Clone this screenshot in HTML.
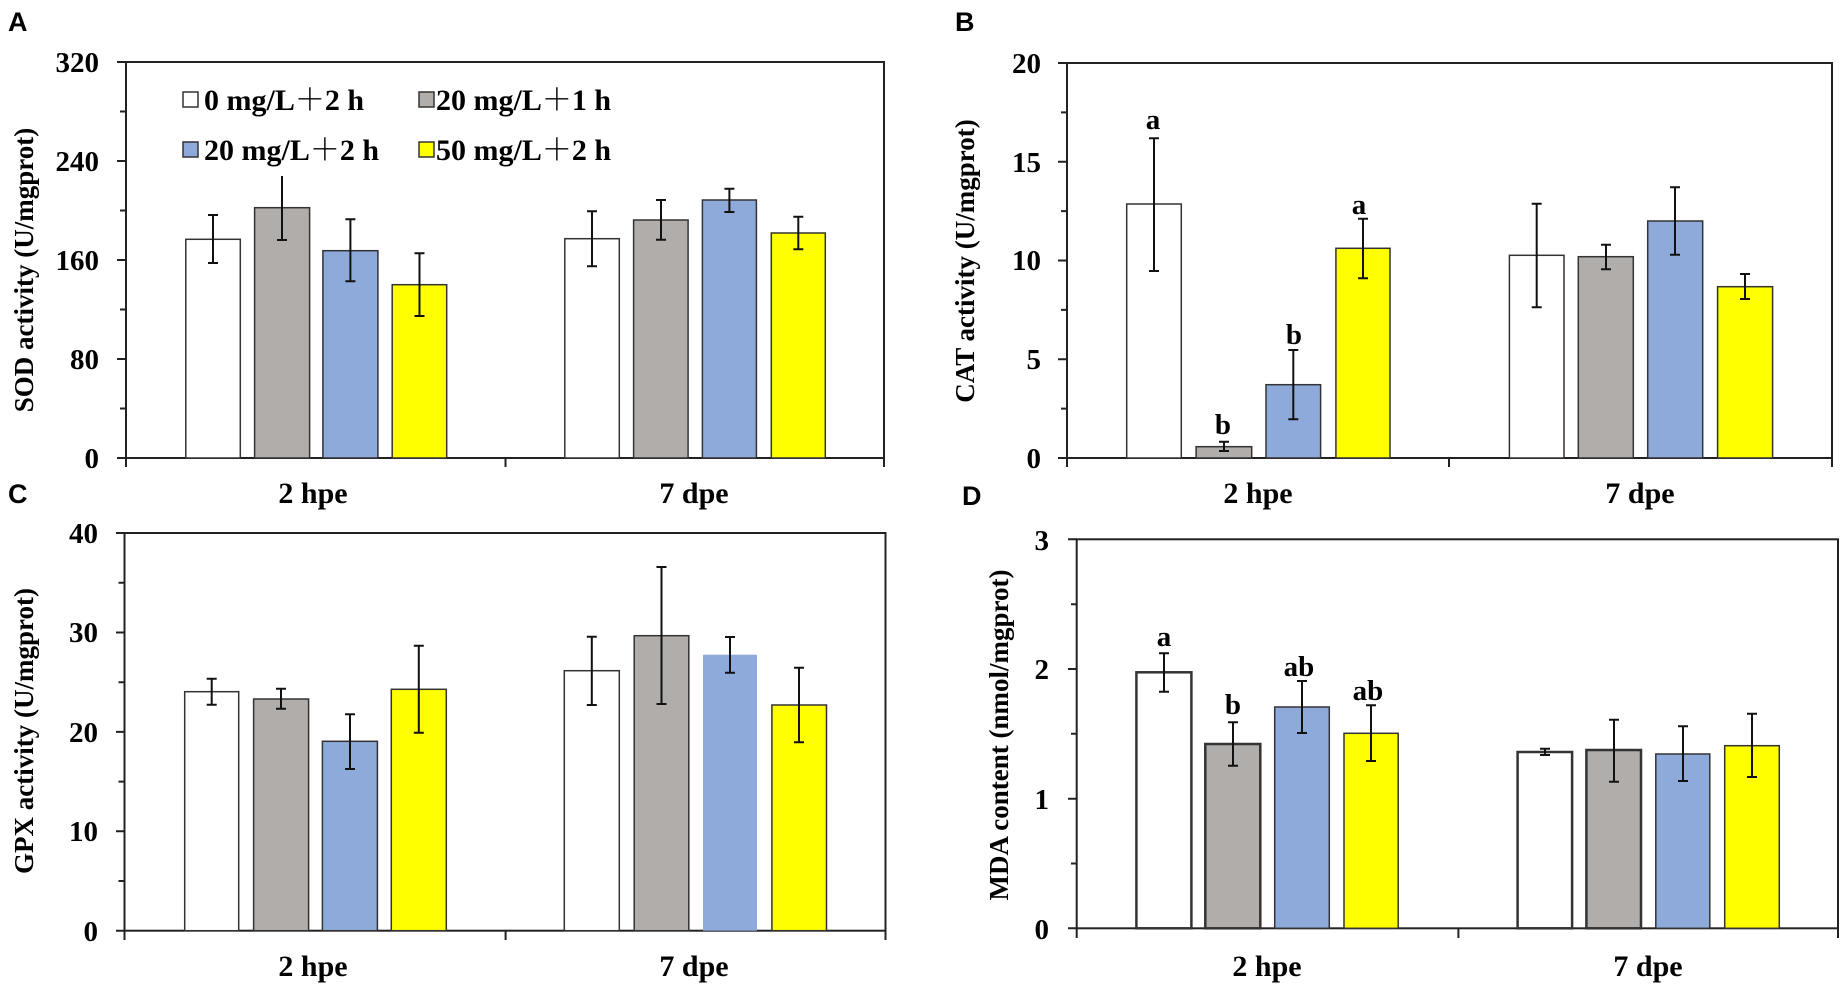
<!DOCTYPE html>
<html><head><meta charset="utf-8"><style>
html,body{margin:0;padding:0;background:#fff}
svg{display:block}
text{font-family:"Liberation Serif","Noto Serif CJK SC",serif;font-weight:bold;fill:#000}
.pl{font-family:"Liberation Sans",sans-serif;font-size:27px}
.tk{font-size:29px;text-anchor:end}
.cat{font-size:30px;text-anchor:middle}
.ttl{font-size:27px;text-anchor:middle}
.sig{font-size:29px;text-anchor:middle}
.lg{font-size:30px}
.b{stroke:#333;stroke-width:1.5}
.e{stroke:#111;stroke-width:2;fill:none}
.ax{stroke:#222;stroke-width:2;fill:none}
</style></head><body>
<svg width="1843" height="986" viewBox="0 0 1843 986" xmlns="http://www.w3.org/2000/svg">
<text class="pl" x="8" y="31">A</text>
<text class="pl" x="955" y="31">B</text>
<text class="pl" x="8" y="503">C</text>
<text class="pl" x="962" y="505">D</text>

<rect x="126" y="62" width="758" height="396" class="ax"/>
<path class="ax" d="M117 62H126M120 111.5H126M117 161H126M120 210.5H126M117 260H126M120 309.5H126M117 359H126M120 408.5H126M117 458H126M126 458V467M505.5 458V467M884 458V467"/>
<text class="tk" x="99" y="72">320</text>
<text class="tk" x="99" y="171">240</text>
<text class="tk" x="99" y="270">160</text>
<text class="tk" x="99" y="369">80</text>
<text class="tk" x="99" y="468">0</text>
<text class="ttl" transform="translate(33,270) rotate(-90)">SOD activity (U/mgprot)</text>
<text class="cat" x="313" y="503">2 hpe</text>
<text class="cat" x="694" y="503">7 dpe</text>
<g class="b">
<rect x="185.8" y="239.3" width="54.5" height="218.7" fill="#fff"/>
<rect x="254.6" y="207.7" width="55" height="250.3" fill="#b0adab"/>
<rect x="322.9" y="250.7" width="55" height="207.3" fill="#8eaadb"/>
<rect x="392.2" y="284.7" width="54.5" height="173.3" fill="#ffff00"/>
<rect x="564.8" y="238.7" width="54.5" height="219.3" fill="#fff"/>
<rect x="633.6" y="220" width="54.5" height="238" fill="#b0adab"/>
<rect x="702.4" y="200" width="54" height="258" fill="#8eaadb"/>
<rect x="771.3" y="233" width="54" height="225" fill="#ffff00"/>
</g>
<path class="e" d="M213 215V263M208 215H218M208 263H218
M282 176V240M277 240H287
M350.4 219.3V281.3M345.4 219.3H355.4M345.4 281.3H355.4
M419.5 253.3V316M414.5 253.3H424.5M414.5 316H424.5
M592 211.3V266.3M587 211.3H597M587 266.3H597
M661 200V239.7M656 200H666M656 239.7H666
M729.4 188.7V212M724.4 188.7H734.4M724.4 212H734.4
M798.3 216.7V249.3M793.3 216.7H803.3M793.3 249.3H803.3"/>
<rect x="183" y="92" width="15" height="15" fill="#fff" stroke="#333" stroke-width="1.5"/>
<text class="lg" x="204" y="110">0 mg/L＋2 h</text>
<rect x="419" y="92" width="15" height="15" fill="#b0adab" stroke="#333" stroke-width="1.5"/>
<text class="lg" x="436" y="110">20 mg/L＋1 h</text>
<rect x="183" y="142" width="15" height="15" fill="#8eaadb" stroke="#333" stroke-width="1.5"/>
<text class="lg" x="204" y="160">20 mg/L＋2 h</text>
<rect x="419" y="142" width="15" height="15" fill="#ffff00" stroke="#333" stroke-width="1.5"/>
<text class="lg" x="436" y="160">50 mg/L＋2 h</text>

<rect x="1067" y="63" width="765" height="395" class="ax"/>
<path class="ax" d="M1058 63H1067M1061 112.4H1067M1058 161.75H1067M1061 211.1H1067M1058 260.5H1067M1061 309.9H1067M1058 359.25H1067M1061 408.6H1067M1058 458H1067M1067 458V467M1449 458V467M1832 458V467"/>
<text class="tk" x="1041" y="73">20</text>
<text class="tk" x="1041" y="172">15</text>
<text class="tk" x="1041" y="270">10</text>
<text class="tk" x="1041" y="369">5</text>
<text class="tk" x="1041" y="468">0</text>
<text class="ttl" transform="translate(974,261) rotate(-90)">CAT activity (U/mgprot)</text>
<text class="cat" x="1258" y="503">2 hpe</text>
<text class="cat" x="1640" y="503">7 dpe</text>
<g class="b">
<rect x="1126.7" y="204" width="54.6" height="254" fill="#fff"/>
<rect x="1196.1" y="446.7" width="55.6" height="11.3" fill="#b0adab"/>
<rect x="1266" y="384.7" width="54.6" height="73.3" fill="#8eaadb"/>
<rect x="1335.9" y="248.3" width="54.1" height="209.7" fill="#ffff00"/>
<rect x="1509.4" y="255.3" width="54.6" height="202.7" fill="#fff"/>
<rect x="1578.3" y="256.7" width="55" height="201.3" fill="#b0adab"/>
<rect x="1647.7" y="221" width="55" height="237" fill="#8eaadb"/>
<rect x="1717.6" y="286.7" width="55" height="171.3" fill="#ffff00"/>
</g>
<path class="e" d="M1154 138.3V271M1149 138.3H1159M1149 271H1159
M1224 441.7V451M1219 441.7H1229M1219 451H1229
M1293.3 350V419.3M1288.3 350H1298.3M1288.3 419.3H1298.3
M1363 218.7V278.3M1358 218.7H1368M1358 278.3H1368
M1536.7 203.7V307.3M1531.7 203.7H1541.7M1531.7 307.3H1541.7
M1606 244.7V269.3M1601 244.7H1611M1601 269.3H1611
M1675 187.3V254.7M1670 187.3H1680M1670 254.7H1680
M1745 274V299M1740 274H1750M1740 299H1750"/>
<text class="sig" x="1153" y="129">a</text>
<text class="sig" x="1359" y="214">a</text>
<text class="sig" x="1223" y="434">b</text>
<text class="sig" x="1294" y="344">b</text>

<rect x="124.5" y="533" width="761" height="397.7" class="ax"/>
<path class="ax" d="M116 533H124.5M118.5 582.7H124.5M116 632.5H124.5M118.5 682.2H124.5M116 731.9H124.5M118.5 781.6H124.5M116 831.3H124.5M118.5 881H124.5M116 930.7H124.5M124.5 930.7V940M505.6 930.7V940M885.5 930.7V940"/>
<text class="tk" x="98" y="543">40</text>
<text class="tk" x="98" y="642">30</text>
<text class="tk" x="98" y="742">20</text>
<text class="tk" x="98" y="841">10</text>
<text class="tk" x="98" y="941">0</text>
<text class="ttl" transform="translate(33,731) rotate(-90)">GPX activity (U/mgprot)</text>
<text class="cat" x="313" y="976">2 hpe</text>
<text class="cat" x="694" y="976">7 dpe</text>
<g class="b">
<rect x="184.7" y="691.7" width="54" height="239" fill="#fff"/>
<rect x="253.6" y="699" width="55" height="231.7" fill="#b0adab"/>
<rect x="322.4" y="741.3" width="55" height="189.4" fill="#8eaadb"/>
<rect x="391.3" y="689.3" width="55" height="241.4" fill="#ffff00"/>
<rect x="564.3" y="670.7" width="55" height="260" fill="#fff"/>
<rect x="634.2" y="635.7" width="54.6" height="295" fill="#b0adab"/>
<rect x="703" y="654.7" width="54" height="276" fill="#8eaadb" stroke="none"/>
<rect x="771.9" y="705" width="54.6" height="225.7" fill="#ffff00"/>
</g>
<path class="e" d="M211.7 678.7V704.7M206.7 678.7H216.7M206.7 704.7H216.7
M281 688.7V708.7M276 688.7H286M276 708.7H286
M350 714.3V769M345 714.3H355M345 769H355
M418.8 645.7V732.7M413.8 645.7H423.8M413.8 732.7H423.8
M591.8 636.7V705M586.8 636.7H596.8M586.8 705H596.8
M661.5 567V704M656.5 567H666.5M656.5 704H666.5
M730 637V672.7M725 637H735M725 672.7H735
M799 667.7V742.3M794 667.7H804M794 742.3H804"/>

<rect x="1076.7" y="539.3" width="761.3" height="389" class="ax"/>
<path class="ax" d="M1068 539.3H1076.7M1071 604.2H1076.7M1068 669H1076.7M1071 733.8H1076.7M1068 798.7H1076.7M1071 863.5H1076.7M1068 928.3H1076.7M1076.7 928.3V938M1458.4 928.3V938M1838 928.3V938"/>
<text class="tk" x="1049" y="550">3</text>
<text class="tk" x="1049" y="679">2</text>
<text class="tk" x="1049" y="809">1</text>
<text class="tk" x="1049" y="939">0</text>
<text class="ttl" transform="translate(1008,735) rotate(-90)">MDA content (nmol/mgprot)</text>
<text class="cat" x="1267" y="976">2 hpe</text>
<text class="cat" x="1648" y="976">7 dpe</text>
<g class="b">
<rect x="1136.4" y="672.3" width="55" height="256" fill="#fff" stroke-width="2.5"/>
<rect x="1205.3" y="744" width="55" height="184.3" fill="#b0adab" stroke-width="2.5"/>
<rect x="1274.7" y="707" width="54.6" height="221.3" fill="#8eaadb"/>
<rect x="1344" y="733.3" width="54.2" height="195" fill="#ffff00"/>
<rect x="1517.6" y="752" width="54.5" height="176.3" fill="#fff" stroke-width="2.5"/>
<rect x="1586.4" y="750" width="54.6" height="178.3" fill="#b0adab" stroke-width="2.5"/>
<rect x="1655.8" y="754" width="54" height="174.3" fill="#8eaadb"/>
<rect x="1724.7" y="745.7" width="54.6" height="182.6" fill="#ffff00"/>
</g>
<path class="e" d="M1164 653.3V691.7M1159 653.3H1169M1159 691.7H1169
M1233 722.3V765.7M1228 722.3H1238M1228 765.7H1238
M1302 681V733M1297 681H1307M1297 733H1307
M1371 705.3V761M1366 705.3H1376M1366 761H1376
M1545 748.7V755M1540 748.7H1550M1540 755H1550
M1614 719.7V781.7M1609 719.7H1619M1609 781.7H1619
M1683 726.3V781M1678 726.3H1688M1678 781H1688
M1752 713.7V777M1747 713.7H1757M1747 777H1757"/>
<text class="sig" x="1164" y="646">a</text>
<text class="sig" x="1233" y="714">b</text>
<text class="sig" x="1299" y="676">ab</text>
<text class="sig" x="1368" y="700">ab</text>
</svg>
</body></html>
